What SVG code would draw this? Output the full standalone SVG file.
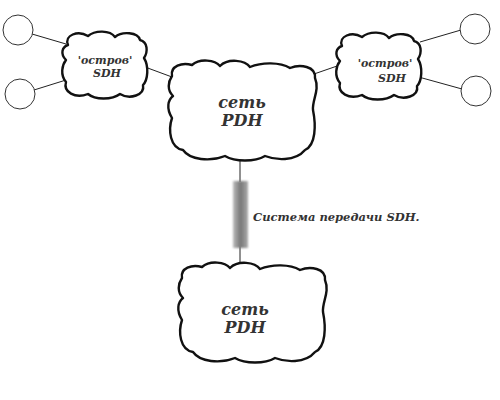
<svg xmlns="http://www.w3.org/2000/svg" width="500" height="400" viewBox="0 0 500 400">
<defs>
<style>
.cloud{fill:#fff;stroke:#111;stroke-width:2.4;stroke-linejoin:round}
.term{fill:#fff;stroke:#333;stroke-width:1}
.conn{stroke:#222;stroke-width:1;fill:none}
.lbl{font-family:"DejaVu Serif","Liberation Serif",serif;font-style:italic;font-weight:bold;fill:#333;text-anchor:middle}
.big{font-size:16px}
.small{font-size:11px}
</style>
<path id="pdhShape" d="M 172,76 C 170,66 182,62 192,65 C 200,58 215,60 220,66 C 228,58 245,60 250,67 C 262,62 280,62 290,68 C 300,64 316,66 315,78 C 320,90 312,100 313,110 C 316,125 316,145 305,150 C 295,162 275,160 265,156 C 255,162 235,162 225,156 C 210,162 190,160 183,150 C 170,148 168,130 172,118 C 166,108 168,100 173,96 C 167,90 168,82 172,76 Z"/>
<path id="sdhShape" d="M 68,45 C 64,35 78,30 88,36 C 95,30 110,30 115,37 C 122,31 138,32 140,40 C 148,42 148,52 144,58 C 149,66 148,80 143,85 C 145,95 130,100 120,94 C 112,100 95,100 88,94 C 75,99 63,92 66,82 C 60,75 62,65 66,60 C 60,54 62,47 68,45 Z"/>
<linearGradient id="barGrad" x1="0" y1="0" x2="1" y2="0">
<stop offset="0" stop-color="#bbb"/>
<stop offset="0.5" stop-color="#777"/>
<stop offset="1" stop-color="#aaa"/>
</linearGradient>
<filter id="soft" x="-50%" y="-20%" width="200%" height="140%">
<feGaussianBlur stdDeviation="1.2"/>
</filter>
</defs>
<rect width="500" height="400" fill="#fff"/>
<g id="connectors">
<line class="conn" x1="32" y1="34" x2="66" y2="44"/>
<line class="conn" x1="34" y1="90" x2="66" y2="80"/>
<line class="conn" x1="145" y1="67" x2="172" y2="77"/>
<line class="conn" x1="314" y1="74" x2="340" y2="65"/>
<line class="conn" x1="420" y1="42" x2="461" y2="30"/>
<line class="conn" x1="415" y1="76" x2="462" y2="89"/>
<line class="conn" x1="240" y1="158" x2="240" y2="182"/>
<line class="conn" x1="240" y1="246" x2="240" y2="266"/>
</g>
<g id="term-tl"><circle class="term" cx="18" cy="30" r="15"/></g>
<g id="term-bl"><circle class="term" cx="20" cy="94" r="15"/></g>
<g id="term-tr"><circle class="term" cx="475" cy="29" r="15"/></g>
<g id="term-br"><circle class="term" cx="476" cy="91" r="15"/></g>
<g id="sdh-left">
<use href="#sdhShape" class="cloud"/>
<text class="lbl small" x="105" y="64">'остров'</text>
<text class="lbl small" x="107" y="77">SDH</text>
</g>
<g id="sdh-right">
<use href="#sdhShape" class="cloud" transform="translate(274,1)"/>
<text class="lbl small" x="385" y="67">'остров'</text>
<text class="lbl small" x="392" y="82">SDH</text>
</g>
<g id="pdh-top">
<use href="#pdhShape" class="cloud"/>
<text class="lbl big" x="242" y="108">сеть</text>
<text class="lbl big" x="242" y="126">PDH</text>
</g>
<g id="sds-link">
<rect x="233" y="181" width="15" height="67" fill="url(#barGrad)" filter="url(#soft)"/>
<text class="lbl" x="253" y="221" style="text-anchor:start;font-size:11.5px">Система передачи SDH.</text>
</g>
<g id="pdh-bottom">
<use href="#pdhShape" class="cloud" transform="translate(10,202)"/>
<text class="lbl big" x="245" y="315">сеть</text>
<text class="lbl big" x="245" y="333">PDH</text>
</g>
</svg>
